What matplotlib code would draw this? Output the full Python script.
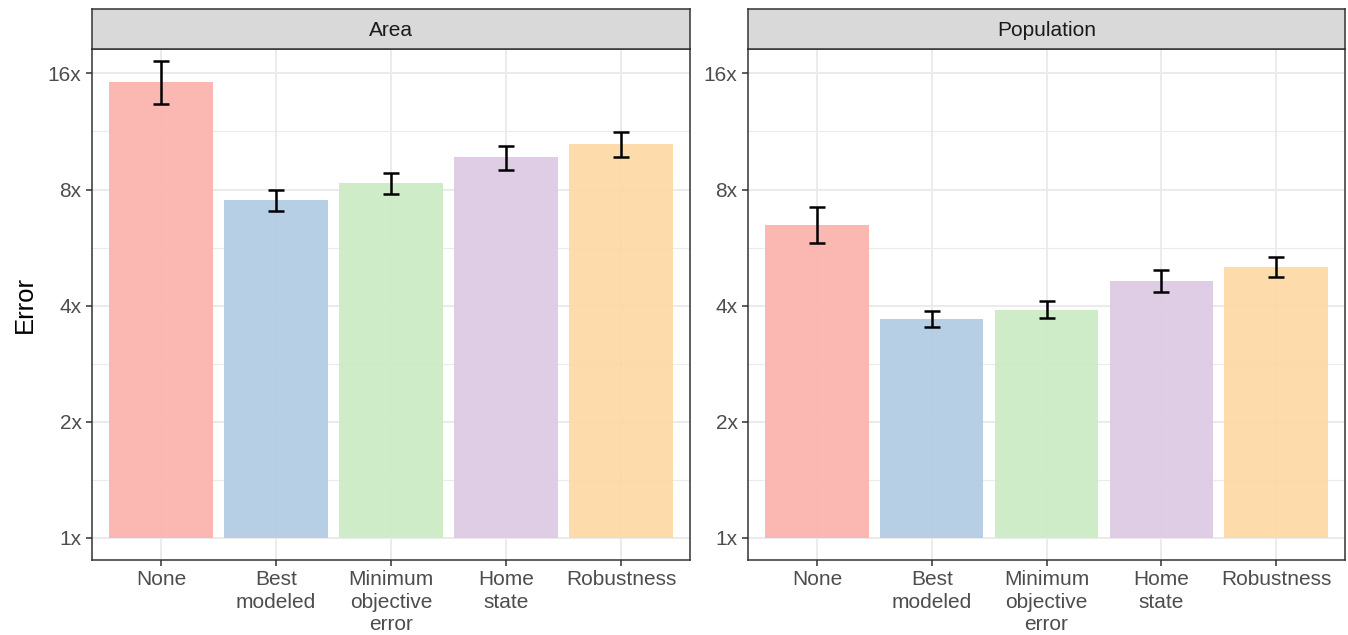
import numpy as np
import matplotlib
matplotlib.use("Agg")
from matplotlib import pyplot as plt
from matplotlib.ticker import FixedLocator, FuncFormatter, NullFormatter

# categories and estimated values
methods = ["None", "Best\nmodeled", "Minimum\nobjective\nerror", "Home\nstate", "Robustness"]
panels = ["Area", "Population"]

area_err = [15.2, 7.51, 8.31, 9.70, 10.49]
area_lo = [13.3, 7.03, 7.78, 8.98, 9.70]
area_hi = [17.2, 7.97, 8.82, 10.36, 11.27]

pop_err = [6.47, 3.69, 3.90, 4.63, 5.04]
pop_lo = [5.81, 3.52, 3.71, 4.34, 4.74]
pop_hi = [7.20, 3.87, 4.11, 4.95, 5.35]

colors = ["#FBB4AE", "#B3CDE3", "#CCEBC5", "#DECBE4", "#FED9A6"]
major = [1, 2, 4, 8, 16]

plt.rcParams["font.family"] = ["Liberation Sans", "DejaVu Sans"]

fig = plt.figure(figsize=(13.48, 6.35), dpi=100)
W, H = 1348.0, 635.0

def add_panel(x0, x1, name, vals, lo, hi, first):
    top, bot = 49, 560
    ax = fig.add_axes([x0 / W, 1 - bot / H, (x1 - x0) / W, (bot - top) / H])
    st = fig.add_axes([x0 / W, 1 - top / H, (x1 - x0) / W, 40 / H])
    st.set_facecolor("#D9D9D9")
    st.set_xticks([]); st.set_yticks([])
    for s in st.spines.values():
        s.set_color("#333333"); s.set_linewidth(1.1)
    st.text(0.5, 0.46, name, ha="center", va="center", fontsize=15, color="#1A1A1A",
            transform=st.transAxes)

    x = np.arange(len(methods))
    v = np.array(vals)
    ax.set_yscale("log", base=2)
    ax.bar(x, v - 1, bottom=1, width=0.9, color=colors, alpha=0.95, zorder=2)
    ax.errorbar(x, v, yerr=[v - np.array(lo), np.array(hi) - v], fmt="none",
                ecolor="black", elinewidth=1.8, capsize=5.5, capthick=1.8, zorder=3)

    ax.set_xlim(-0.6, 4.6)
    ax.set_ylim(2 ** -0.19, 2 ** 4.21)
    ax.yaxis.set_major_locator(FixedLocator(major))
    ax.yaxis.set_minor_locator(FixedLocator([m * np.sqrt(2) for m in major[:-1]]))
    ax.yaxis.set_major_formatter(FuncFormatter(lambda t, p: "%dx" % round(t)))
    ax.yaxis.set_minor_formatter(NullFormatter())
    ax.set_xticks(x)
    ax.set_xticklabels(methods, linespacing=1.22)

    ax.grid(True, which="major", color="#EBEBEB", linewidth=1.4, zorder=0)
    ax.grid(True, which="minor", axis="y", color="#EBEBEB", linewidth=0.8, zorder=0)
    ax.set_axisbelow(True)
    ax.tick_params(which="major", length=4.5, width=1.1, color="#333333",
                   labelsize=15, labelcolor="#4D4D4D", pad=3)
    ax.tick_params(which="minor", length=0)
    for s in ax.spines.values():
        s.set_color("#333333"); s.set_linewidth(1.1)
    if first:
        ax.set_ylabel("Error", fontsize=18.5, color="black", labelpad=8)
    return ax

add_panel(92, 690, panels[0], area_err, area_lo, area_hi, True)
add_panel(748, 1345, panels[1], pop_err, pop_lo, pop_hi, False)

fig.savefig("out.png", dpi=100)
